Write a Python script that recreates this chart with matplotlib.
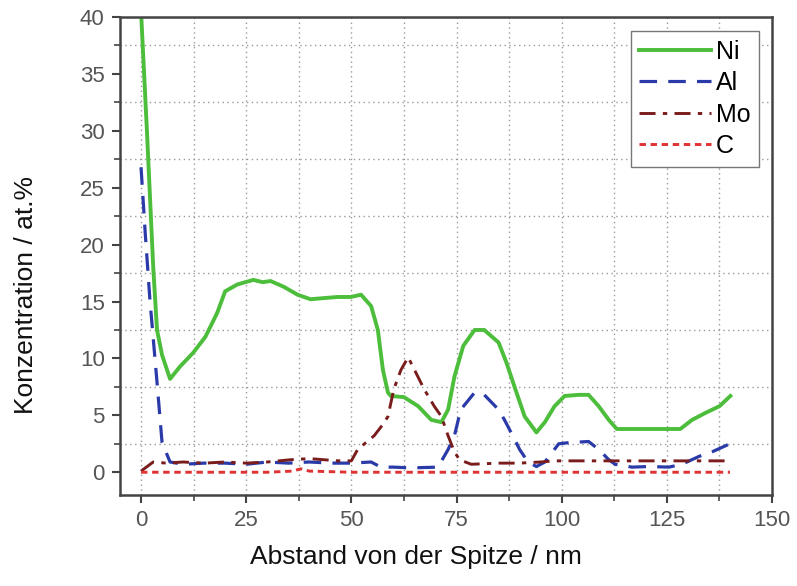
import numpy as np
import matplotlib.pyplot as plt
from matplotlib.ticker import MultipleLocator

plt.rcParams['font.family'] = ['Liberation Sans', 'DejaVu Sans']

# Ni profile
ni_x = [0, 1.4, 2.9, 3.8, 5.0, 6.9, 9.3, 12.4, 15.3, 18.1, 20.0, 22.9, 26.7, 28.9,
        30.8, 33.9, 37.2, 40.3, 43.4, 46.8, 49.9, 52.3, 54.7, 56.3, 57.5, 58.7,
        59.4, 62.5, 65.9, 69.0, 71.4, 73.0, 74.5, 76.6, 79.3, 81.6, 85.0, 86.9,
        88.8, 91.2, 94.0, 96.0, 98.3, 100.7, 104.0, 106.4, 108.8, 111.2, 113.1,
        119.1, 124.6, 128.2, 131.0, 134.1, 137.5, 140.1]
ni_y = [40.5, 30.0, 18.0, 12.5, 10.3, 8.2, 9.3, 10.5, 11.9, 14.0, 15.9, 16.5, 16.9, 16.7,
        16.8, 16.3, 15.6, 15.2, 15.3, 15.4, 15.4, 15.6, 14.6, 12.5, 9.0, 7.0,
        6.7, 6.6, 5.8, 4.6, 4.4, 5.5, 8.4, 11.1, 12.5, 12.5, 11.4, 9.6,
        7.5, 4.9, 3.5, 4.4, 5.8, 6.7, 6.8, 6.8, 5.8, 4.6, 3.8,
        3.8, 3.8, 3.8, 4.6, 5.2, 5.8, 6.7]

# Al profile
al_x = [0, 1.0, 2.1, 3.8, 5.0, 6.9, 10, 15, 20, 25, 30, 35, 40, 45, 50, 54.7,
        57, 60, 63, 66, 70.6, 73.0, 74.5, 76.0, 79.3, 81.6, 85.0, 86.4, 88.8, 90.0,
        92.0, 94.0, 96.0, 99.3, 101.7, 106.4, 108.8, 111.2, 112.7, 116.7, 120.8,
        125.5, 128.6, 132.7, 135.8, 138.2, 140.6]
al_y = [26.8, 21.0, 15.2, 7.9, 2.6, 0.9, 0.7, 0.8, 0.8, 0.7, 0.9, 0.8, 0.9, 0.8, 0.8, 0.9,
        0.45, 0.45, 0.4, 0.4, 0.45, 2.0, 3.2, 5.5, 7.0, 6.8, 5.5, 4.6, 2.9, 2.0,
        0.9, 0.5, 0.9, 2.5, 2.6, 2.7, 2.0, 1.1, 0.7, 0.45, 0.5,
        0.45, 0.7, 1.4, 1.8, 2.2, 2.6]

# Mo profile
mo_x = [0, 2.9, 6, 10, 15, 20, 25, 30, 35.6, 40, 43.4, 47, 50, 51.5, 55.4, 57.5,
        58.7, 60.1, 61.8, 63.5, 65.0, 67.3, 69.7, 71.4, 73.0, 74.5, 75.7, 78.5,
        85, 90, 95, 98.3, 105, 110, 120, 130, 140]
mo_y = [0.1, 0.9, 0.8, 0.9, 0.8, 0.9, 0.8, 0.9, 1.1, 1.2, 1.1, 1.0, 1.0, 2.0, 3.2, 4.2,
        4.9, 7.3, 9.0, 10.1, 9.0, 7.3, 5.8, 4.9, 3.2, 1.8, 1.1, 0.7,
        0.8, 0.8, 0.9, 1.0, 1.0, 1.0, 1.0, 1.0, 1.0]

# C profile
c_x = [0, 10, 20, 30, 36, 38, 40, 50, 60, 70, 80, 90, 100, 110, 120, 130, 140]
c_y = [0.0, 0.0, 0.0, 0.0, 0.1, 0.3, 0.1, 0.0, 0.0, 0.0, 0.0, 0.0, 0.0, 0.0, 0.0, 0.0, 0.0]

fig = plt.figure(figsize=(7.97, 5.86), dpi=100)
ax = fig.add_axes([120/797, 1-495/586, 652/797, 478/586])

ax.plot(ni_x, ni_y, '-', color='#4dbd3c', linewidth=2.8, solid_joinstyle='round', label='Ni')
ax.plot(al_x, al_y, color='#2a3aa8', linewidth=2.3, dashes=(5.5, 3.5), label='Al')
ax.plot(mo_x, mo_y, color='#7a1c1c', linewidth=2.1, dashes=(5.5, 2.5, 1.5, 2.5), label='Mo')
ax.plot(c_x, c_y, color='#e03232', linewidth=2.1, dashes=(2.2, 1.6), label='C')

ax.set_xlim(-5, 150)
ax.set_ylim(-2, 40)
ax.xaxis.set_major_locator(MultipleLocator(25))
ax.xaxis.set_minor_locator(MultipleLocator(12.5))
ax.yaxis.set_major_locator(MultipleLocator(5))
ax.yaxis.set_minor_locator(MultipleLocator(2.5))

# dotted grid: vertical at every 12.5, horizontal only at half steps
ax.grid(True, axis='x', which='both', linestyle=(0, (1, 2.5)), color='#999999', linewidth=1)
for yv in np.arange(2.5, 40, 5):
    ax.axhline(yv, linestyle=(0, (1, 2.5)), color='#999999', linewidth=1, zorder=0)
ax.set_axisbelow(True)

ax.tick_params(which='major', direction='out', length=6, width=1.5, color='#444444',
               labelsize=16, labelcolor='#555555', pad=5)
ax.tick_params(which='minor', direction='out', length=4, width=1.2, color='#444444')
for s in ax.spines.values():
    s.set_color('#444444')
    s.set_linewidth(1.8)

ax.set_xlabel('Abstand von der Spitze / nm', fontsize=19, color='#111111')
ax.set_ylabel('Konzentration / at.%', fontsize=19, color='#111111')
ax.xaxis.set_label_coords(0.454, -0.105)
ax.yaxis.set_label_coords(-0.125, 0.418)

leg = ax.legend(loc='upper right', bbox_to_anchor=(0.980, 0.971), borderaxespad=0,
                fontsize=18, fancybox=False, edgecolor='#777777', framealpha=1,
                handlelength=2.85, handletextpad=0.2, labelspacing=0.3,
                borderpad=0.35)
leg.get_frame().set_linewidth(1.0)

fig.savefig('out.png', dpi=100)
